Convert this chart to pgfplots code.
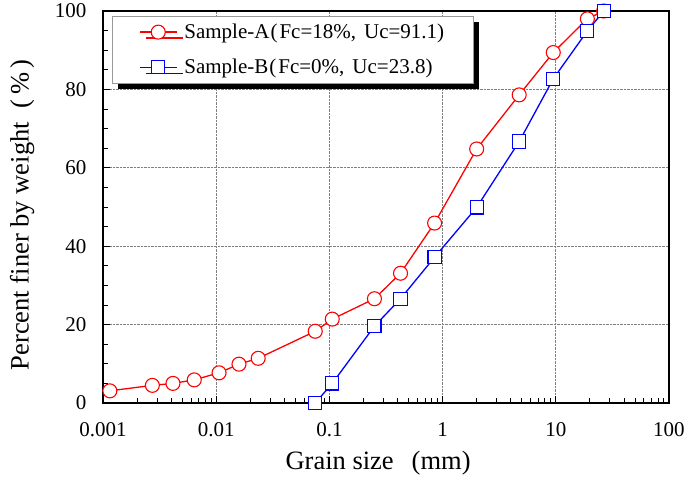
\documentclass[border=0pt]{standalone}
\usepackage{pgfplots}
\pgfplotsset{compat=1.18}
\usepackage{fontspec}
\setmainfont{Liberation Serif}
\usetikzlibrary{shadows}
\begin{document}
\begin{tikzpicture}
\useasboundingbox (-103pt,-78pt) rectangle (586pt,403pt);
\begin{axis}[
  at={(0pt,0pt)}, anchor=south west,
  scale only axis, width=566pt, height=392pt,
  xmode=log, xmin=0.001, xmax=100, ymin=0, ymax=100,
  xtick={0.001,0.01,0.1,1,10,100},
  xticklabels={0.001,0.01,0.1,1,10,100},
  ytick={0,20,...,100}, minor y tick num=3,
  tick align=inside, xtick pos=bottom, ytick pos=left,
  major tick length=7pt, minor tick length=5pt,
  grid=major, grid style={densely dotted, gray, line width=0.6pt},
  axis line style={line width=1.8pt},
  tick style={black, line width=0.8pt},
  /pgf/number format/assume math mode=true,
  xticklabel style={font=\fontsize{21}{25}\selectfont, yshift=-16pt},
  yticklabel style={font=\fontsize{21}{25}\selectfont, xshift=-13pt},
  every axis x label/.style={at={(axis description cs:0.486,-0.153)}, anchor=center},
  every axis y label/.style={at={(axis description cs:-0.143,0.48)}, rotate=90, anchor=center},
  label style={font=\fontsize{26.5}{30}\selectfont},
  xlabel={Grain size\hspace{18pt}(mm)},
  ylabel={Percent finer by weight\hspace{14pt}(\,\%\,)},
  clip=false,
  legend cell align=left,
  legend style={at={(axis description cs:0.0154,0.988)}, anchor=north west,
    draw=gray!80, line width=0.8pt, fill=white,
    font=\fontsize{21}{25}\selectfont,
    inner xsep=27pt, inner ysep=6pt, row sep=15pt, column sep=5pt, nodes={inner sep=2pt},
    general shadow={fill=black, shadow xshift=6pt, shadow yshift=-6pt}},
  legend image code/.code={\draw[mark repeat=2,mark phase=2,#1] plot coordinates {(0pt,0pt)(18.5pt,0pt)(37pt,0pt)};},
]
\addplot[red, line width=1.3pt, mark=*, mark size=7pt, mark options={fill=white, draw=red, line width=1.1pt, solid}] coordinates {
(0.00115,3.1) (0.00273,4.5) (0.00415,5.0) (0.0064,5.9) (0.0106,7.7) (0.0159,9.9) (0.0235,11.4)
(0.075,18.3) (0.106,21.4) (0.25,26.6) (0.425,33.1) (0.85,45.9) (2,64.8) (4.75,78.6) (9.5,89.4) (19,98.0) (26.5,100)
};
\addlegendentry{Sample-A\hspace{1pt}(\hspace{2pt}Fc=18\%,\hspace{8pt}Uc=91.1)}
\addplot[blue, line width=1.3pt, mark=square*, mark size=6.6pt, mark options={fill=white, draw=blue, line width=1.1pt, solid}] coordinates {
(0.075,0) (0.106,5.0) (0.25,19.6) (0.425,26.6) (0.85,37.2) (2,49.9) (4.75,66.7) (9.5,82.7) (19,94.9) (26.5,100)
};
\addlegendentry{Sample-B\hspace{1pt}(\hspace{2pt}Fc=0\%,\hspace{8pt}Uc=23.8)}
\end{axis}
\end{tikzpicture}
\end{document}
